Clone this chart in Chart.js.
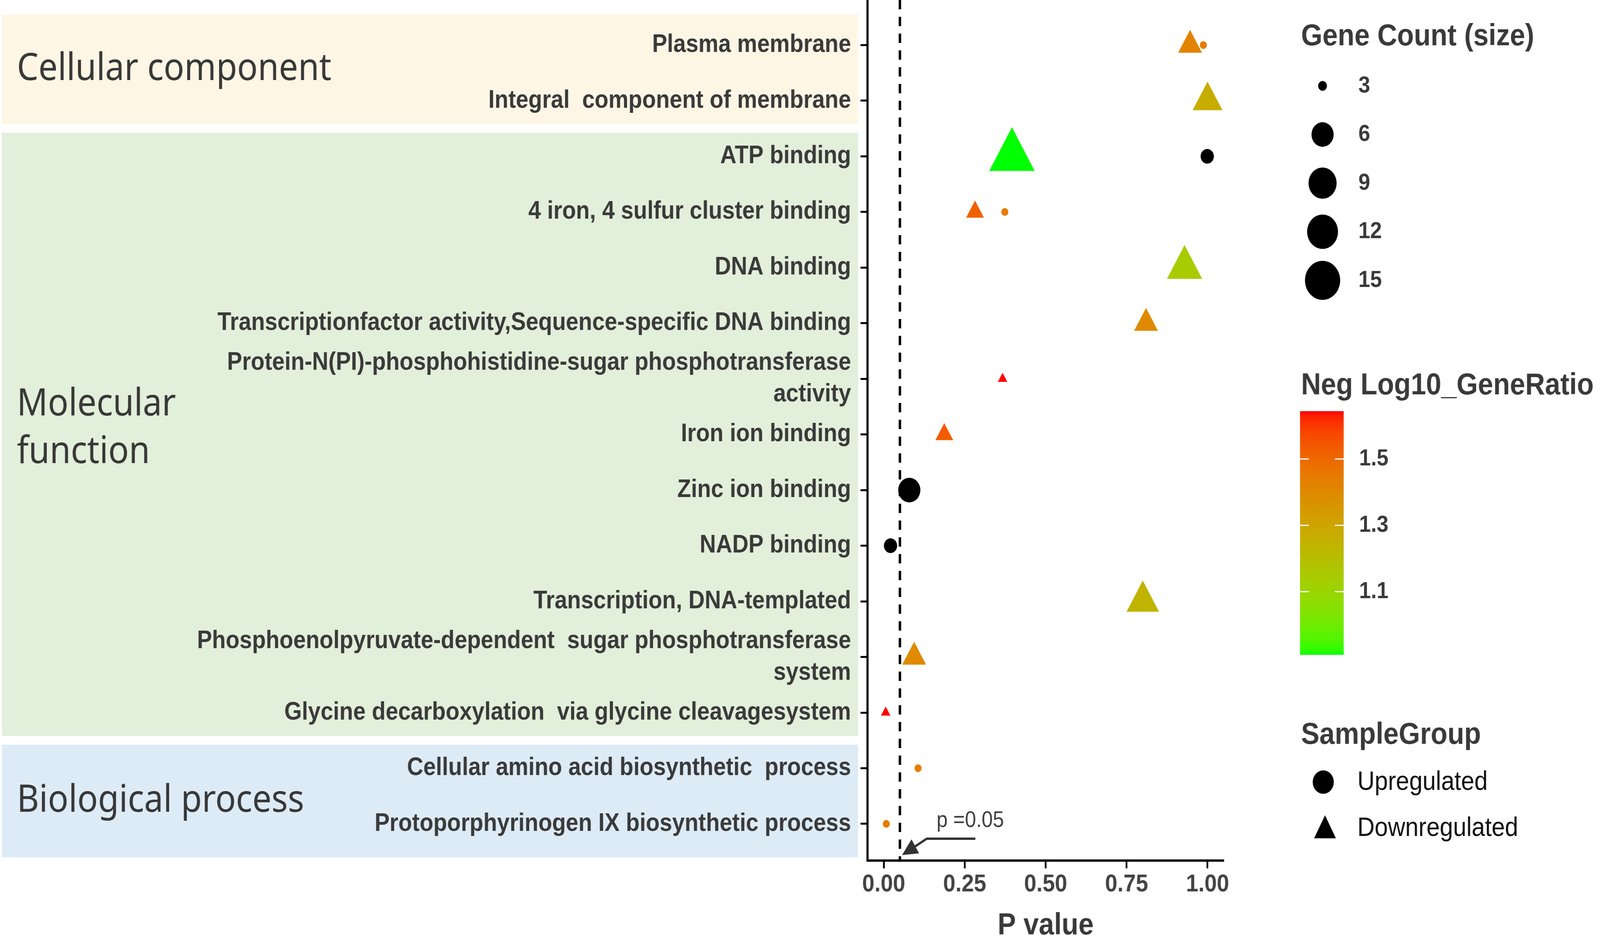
<!DOCTYPE html>
<html>
<head>
<meta charset="utf-8">
<script src="https://cdn.jsdelivr.net/npm/chart.js@4.4.0/dist/chart.umd.min.js"></script>
<style>
  html, body { margin: 0; padding: 0; background: #fff; overflow: hidden; }
  canvas { display: block; }
</style>
</head>
<body>
<canvas id="goChart" width="4550" height="2410" style="width:100vw;height:100vh"></canvas>
<script>
// GO terms, top to bottom
const terms = [
    "Plasma membrane",
    "Integral  component of membrane",
    "ATP binding",
    "4 iron, 4 sulfur cluster binding",
    "DNA binding",
    "Transcriptionfactor activity,Sequence-specific DNA binding",
    ["Protein-N(PI)-phosphohistidine-sugar phosphotransferase", "activity"],
    "Iron ion binding",
    "Zinc ion binding",
    "NADP binding",
    "Transcription, DNA-templated",
    ["Phosphoenolpyruvate-dependent  sugar phosphotransferase", "system"],
    "Glycine decarboxylation  via glycine cleavagesystem",
    "Cellular amino acid biosynthetic  process",
    "Protoporphyrinogen IX biosynthetic process",
];

const groupNames = [["Cellular component"], ["Molecular", "function"], ["Biological process"]];
const groupFirst = [0, 2, 13];
const groupLast = [1, 12, 14];

// Upregulated (circles); null ratio = no value (drawn black)
const upTerm = [0, 2, 3, 8, 9, 13, 14];
const upPValue = [0.987, 0.999, 0.374, 0.079, 0.021, 0.106, 0.008];
const upCount = [2, 4, 2, 6, 4, 2, 2];
const upRatio = [1.44, null, 1.44, null, null, 1.44, 1.44];

// Downregulated (triangles)
const downTerm = [0, 1, 2, 3, 4, 5, 6, 7, 10, 11, 12];
const downPValue = [0.946, 1.000, 0.396, 0.282, 0.929, 0.810, 0.367, 0.187, 0.800, 0.094, 0.006];
const downCount = [5, 6, 14, 4, 8, 5, 2, 4, 7, 5, 2];
const downRatio = [1.42, 1.27, 0.911, 1.52, 1.14, 1.40, 1.644, 1.53, 1.24, 1.40, 1.644];

const xTicks = [0, 0.25, 0.5, 0.75, 1];
const sizeBreaks = [3, 6, 9, 12, 15];
const colorBreaks = [1.1, 1.3, 1.5];
const pCutoff = 0.05;

// ---- styling helpers ----
const sizeKnots = [2, 3, 6, 9, 12, 15];
const sizeDiam = [20, 25, 63, 80, 88, 100];
function diameter(n) {
    let i = 1;
    while (i < sizeKnots.length - 1 && n > sizeKnots[i]) i++;
    const t = (n - sizeKnots[i - 1]) / (sizeKnots[i] - sizeKnots[i - 1]);
    return sizeDiam[i - 1] + t * (sizeDiam[i] - sizeDiam[i - 1]);
}

function toLin(c) { c /= 255; return c <= 0.04045 ? c / 12.92 : Math.pow((c + 0.055) / 1.055, 2.4); }
function toSrgb(c) {
    c = c <= 0.0031308 ? 12.92 * c : 1.055 * Math.pow(c, 1 / 2.4) - 0.055;
    return Math.round(Math.max(0, Math.min(1, c)) * 255);
}
function rgbToLab(rgb) {
    const r = toLin(rgb[0]), g = toLin(rgb[1]), b = toLin(rgb[2]);
    const X = (0.4124 * r + 0.3576 * g + 0.1805 * b) / 0.95047;
    const Y = 0.2126 * r + 0.7152 * g + 0.0722 * b;
    const Z = (0.0193 * r + 0.1192 * g + 0.9505 * b) / 1.08883;
    const f = t => t > 0.008856 ? Math.cbrt(t) : 7.787 * t + 16 / 116;
    return [116 * f(Y) - 16, 500 * (f(X) - f(Y)), 200 * (f(Y) - f(Z))];
}
function labToRgb(lab) {
    const fy = (lab[0] + 16) / 116, fx = fy + lab[1] / 500, fz = fy - lab[2] / 200;
    const inv = t => t * t * t > 0.008856 ? t * t * t : (t - 16 / 116) / 7.787;
    const X = inv(fx) * 0.95047, Y = inv(fy), Z = inv(fz) * 1.08883;
    const r = 3.2406 * X - 1.5372 * Y - 0.4986 * Z;
    const g = -0.9689 * X + 1.8758 * Y + 0.0415 * Z;
    const b = 0.0557 * X - 0.2040 * Y + 1.0570 * Z;
    return 'rgb(' + toSrgb(r) + ',' + toSrgb(g) + ',' + toSrgb(b) + ')';
}
const labLow = rgbToLab([0, 255, 0]);
const labHigh = rgbToLab([255, 0, 0]);
const allRatios = upRatio.concat(downRatio).filter(v => v !== null);
const ratioMin = Math.min(...allRatios);
const ratioMax = Math.max(...allRatios);
function ratioColor(v) {
    if (v === null || v === undefined) return '#000000';
    const t = (v - ratioMin) / (ratioMax - ratioMin);
    return labToRgb([0, 1, 2].map(k => labLow[k] + t * (labHigh[k] - labLow[k])));
}

function pointsOf(t, p, n, r) {
    return t.map((term, i) => ({ x: p[i], y: term, count: n[i], ratio: r[i] }));
}

const FONT = '"Liberation Sans", Arial, sans-serif';
const tickFont = { family: FONT, size: 64, weight: 'bold', lineHeight: 1.27 };

// coloured category bands + group names on the left
const bandColors = ['#fef6e5', '#e2efda', '#ddebf7'];
const bandsPlugin = {
    id: 'bands',
    beforeDraw(chart) {
        const ctx = chart.ctx, y = chart.scales.y;
        const right = chart.chartArea.left - 27;
        ctx.save();
        groupFirst.forEach((f, g) => {
            const l = groupLast[g];
            const top = g === 0 ? y.getPixelForValue(f - 0.55) : y.getPixelForValue(f - 0.5) + 11;
            const bottom = g === groupFirst.length - 1 ? y.getPixelForValue(l + 0.6) : y.getPixelForValue(l + 0.5) - 11;
            ctx.fillStyle = bandColors[g];
            ctx.fillRect(5, top, right - 5, bottom - top);
            ctx.fillStyle = '#383838';
            ctx.font = '97px "Noto Sans", sans-serif';
            ctx.textBaseline = 'middle';
            ctx.textAlign = 'left';
            const lines = groupNames[g];
            const mid = (top + bottom) / 2 - (lines.length > 1 ? 15 : 0);
            lines.forEach((s, k) => {
                ctx.fillText(s, 48, mid + (k - (lines.length - 1) / 2) * 122);
            });
        });
        ctx.restore();
    }
};

// p cutoff line, annotation and the three legends
const overlayPlugin = {
    id: 'overlay',
    afterDatasetsDraw(chart) {
        const ctx = chart.ctx, xs = chart.scales.x, area = chart.chartArea;
        const px = xs.getPixelForValue(pCutoff);
        ctx.save();
        ctx.strokeStyle = '#000';
        ctx.lineWidth = 7;
        ctx.setLineDash([24, 19]);
        ctx.beginPath();
        ctx.moveTo(px, area.top);
        ctx.lineTo(px, area.bottom);
        ctx.stroke();
        ctx.setLineDash([]);

        // annotation
        const b = area.bottom;
        ctx.fillStyle = '#404040';
        ctx.font = '57px ' + FONT;
        ctx.textBaseline = 'alphabetic';
        ctx.textAlign = 'left';
        ctx.fillText('p =0.05', xs.getPixelForValue(0.163), b - 86);
        const x1 = xs.getPixelForValue(0.283), x2 = xs.getPixelForValue(0.133);
        const tipX = px + 6, tipY = b - 14;
        ctx.strokeStyle = '#333';
        ctx.lineWidth = 6;
        const dx = tipX - x2, dy = tipY - (b - 56);
        const len = Math.hypot(dx, dy), ux = dx / len, uy = dy / len;
        ctx.beginPath();
        ctx.moveTo(x1, b - 56);
        ctx.lineTo(x2, b - 56);
        ctx.lineTo(tipX - ux * 30, tipY - uy * 30);
        ctx.stroke();
        const hl = 44, hw = 21;
        ctx.fillStyle = '#333';
        ctx.beginPath();
        ctx.moveTo(tipX, tipY);
        ctx.lineTo(tipX - ux * hl - uy * hw, tipY - uy * hl + ux * hw);
        ctx.lineTo(tipX - ux * hl + uy * hw, tipY - uy * hl - ux * hw);
        ctx.closePath();
        ctx.fill();
        ctx.restore();
    },
    afterDraw(chart) {
        const ctx = chart.ctx;
        const L = 3700;
        ctx.save();
        ctx.textAlign = 'left';

        // size legend
        ctx.fillStyle = '#3a3a3a';
        ctx.font = 'bold 78px ' + FONT;
        ctx.textBaseline = 'alphabetic';
        ctx.fillText('Gene Count (size)', L, 116);
        sizeBreaks.forEach((n, i) => {
            const cy = 220 + i * 124.5;
            ctx.fillStyle = '#000';
            ctx.beginPath();
            ctx.arc(3761, cy, diameter(n) / 2, 0, Math.PI * 2);
            ctx.fill();
            ctx.fillStyle = '#3a3a3a';
            ctx.font = 'bold 60px ' + FONT;
            ctx.textBaseline = 'middle';
            ctx.fillText(String(n), 3863, cy);
        });

        // colour bar
        ctx.textBaseline = 'alphabetic';
        ctx.font = 'bold 78px ' + FONT;
        ctx.fillText('Neg Log10_GeneRatio', L, 1010);
        const barX = 3697, barW = 124, barTop = 1053, barBot = 1676;
        const steps = 300;
        for (let s = 0; s < steps; s++) {
            const v = ratioMax - (s + 0.5) / steps * (ratioMax - ratioMin);
            ctx.fillStyle = ratioColor(v);
            const y0 = barTop + s * (barBot - barTop) / steps;
            ctx.fillRect(barX, y0, barW, (barBot - barTop) / steps + 1);
        }
        colorBreaks.forEach(v => {
            const y = barTop + (ratioMax - v) / (ratioMax - ratioMin) * (barBot - barTop);
            ctx.strokeStyle = '#ffffff';
            ctx.lineWidth = 3;
            ctx.beginPath();
            ctx.moveTo(barX, y); ctx.lineTo(barX + 25, y);
            ctx.moveTo(barX + barW - 25, y); ctx.lineTo(barX + barW, y);
            ctx.stroke();
            ctx.fillStyle = '#3a3a3a';
            ctx.font = 'bold 60px ' + FONT;
            ctx.textBaseline = 'middle';
            ctx.fillText(v.toFixed(1), 3865, y);
        });

        // shape legend
        ctx.textBaseline = 'alphabetic';
        ctx.font = 'bold 78px ' + FONT;
        ctx.fillText('SampleGroup', L, 1905);
        ctx.fillStyle = '#000';
        ctx.beginPath();
        ctx.arc(3763, 2003, 30, 0, Math.PI * 2);
        ctx.fill();
        ctx.beginPath();
        ctx.moveTo(3768, 2088);
        ctx.lineTo(3799, 2147);
        ctx.lineTo(3737, 2147);
        ctx.closePath();
        ctx.fill();
        ctx.fillStyle = '#111';
        ctx.font = '68px ' + FONT;
        ctx.textBaseline = 'middle';
        ctx.fillText('Upregulated', 3860, 2004);
        ctx.fillText('Downregulated', 3860, 2122);
        ctx.restore();
    }
};

const axisGrid = { drawOnChartArea: false, drawTicks: true, tickLength: 20, tickWidth: 5, tickColor: '#000' };
const axisBorder = { display: true, color: '#000', width: 6 };

new Chart(document.getElementById('goChart'), {
    type: 'scatter',
    data: {
        datasets: [
            {
                label: 'Upregulated',
                data: pointsOf(upTerm, upPValue, upCount, upRatio),
                pointStyle: 'circle',
                pointRadius: c => diameter(c.raw.count) / 2,
                backgroundColor: c => ratioColor(c.raw.ratio),
                borderWidth: 0,
                clip: false,
            },
            {
                label: 'Downregulated',
                data: pointsOf(downTerm, downPValue, downCount, downRatio),
                pointStyle: 'triangle',
                pointRadius: c => diameter(c.raw.count) / 2 * 1.555,
                backgroundColor: c => ratioColor(c.raw.ratio),
                borderWidth: 0,
                clip: false,
            },
        ]
    },
    options: {
        responsive: false,
        animation: false,
        devicePixelRatio: 1,
        events: [],
        layout: { autoPadding: false, padding: { left: 0, right: 1070, top: 0, bottom: 0 } },
        plugins: { legend: { display: false }, tooltip: { enabled: false } },
        scales: {
            x: {
                type: 'linear',
                min: -0.05,
                max: 1.05,
                afterBuildTicks: s => { s.ticks = xTicks.map(v => ({ value: v })); },
                afterFit: s => { s.height = 206; s.paddingLeft = 0; s.paddingRight = 0; },
                grid: axisGrid,
                border: axisBorder,
                ticks: {
                    callback: v => Number(v).toFixed(2),
                    font: { family: FONT, size: 63, weight: 'bold' },
                    color: '#444',
                    padding: 4,
                    maxRotation: 0,
                    autoSkip: false,
                },
                title: {
                    display: true,
                    text: 'P value',
                    font: { family: FONT, size: 78, weight: 'bold', lineHeight: 1 },
                    color: '#3a3a3a',
                    padding: 0,
                },
            },
            y: {
                type: 'linear',
                reverse: true,
                min: -0.81,
                max: 14.66,
                afterBuildTicks: s => { s.ticks = terms.map((t, i) => ({ value: i })); },
                afterFit: s => { s.width = 2467; s.paddingTop = 0; s.paddingBottom = 0; },
                grid: axisGrid,
                border: axisBorder,
                ticks: {
                    callback: v => terms[v],
                    font: tickFont,
                    color: '#3a3a3a',
                    padding: 27,
                    autoSkip: false,
                },
            },
        }
    },
    plugins: [bandsPlugin, overlayPlugin]
});
</script>
</body>
</html>
